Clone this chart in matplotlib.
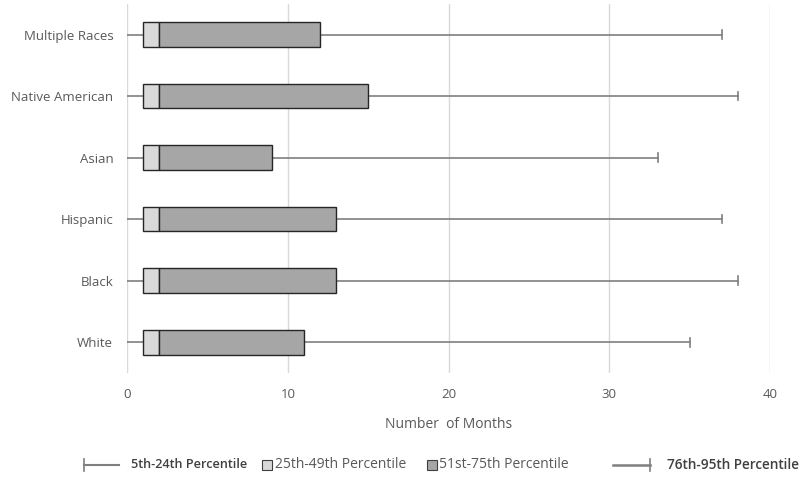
import matplotlib.pyplot as plt
from matplotlib.lines import Line2D
from matplotlib.patches import Rectangle

# data (months)
groups = ['White', 'Black', 'Hispanic', 'Asian', 'Native American', 'Multiple Races']
p5 = [0, 0, 0, 0, 0, 0]
p25 = [1, 1, 1, 1, 1, 1]
p50 = [2, 2, 2, 2, 2, 2]
p75 = [11, 13, 13, 9, 15, 12]
p95 = [35, 38, 37, 33, 38, 37]

light = '#d9d9d9'
dark = '#a6a6a6'
wcol = '#7f7f7f'
tcol = '#595959'

plt.rcParams['font.family'] = ['Open Sans', 'DejaVu Sans']

fig = plt.figure(figsize=(8, 4.8), dpi=100)
ax = fig.add_axes([0.159, 0.223, 0.8035, 0.769])

y = list(range(len(groups)))
h = 0.4

# whiskers
for i in y:
    ax.plot([p5[i], p25[i]], [i, i], color=wcol, lw=1.2, zorder=2)
    ax.plot([p75[i], p95[i]], [i, i], color=wcol, lw=1.2, zorder=2)
    ax.plot([p95[i], p95[i]], [i - 0.07, i + 0.07], color=wcol, lw=1.2, zorder=2)

ax.barh(y, [b - a for a, b in zip(p25, p50)], left=p25, height=h,
        color=light, edgecolor='#262626', lw=1.0, zorder=3)
ax.barh(y, [b - a for a, b in zip(p50, p75)], left=p50, height=h,
        color=dark, edgecolor='#262626', lw=1.0, zorder=3)

ax.set_xlim(0, 40)
ax.set_ylim(-0.5, len(groups) - 0.5)
ax.set_xticks([0, 10, 20, 30, 40])
ax.set_yticks(y)
ax.set_yticklabels(groups)
ax.xaxis.grid(True, color='#d9d9d9', lw=1.0)
ax.set_axisbelow(True)
for s in ax.spines.values():
    s.set_visible(False)
ax.tick_params(axis='both', length=0, labelsize=9.5, labelcolor=tcol)
ax.tick_params(axis='x', pad=11)
ax.tick_params(axis='y', pad=10)
ax.set_xlabel('Number  of Months', fontsize=10, color=tcol, labelpad=11)

# legend drawn in figure coords
ly = 1 - 465 / 480
fig.add_artist(Line2D([84 / 800, 119 / 800], [ly, ly], color=wcol, lw=1.5))
fig.add_artist(Line2D([84 / 800, 84 / 800], [ly - 0.013, ly + 0.013], color=wcol, lw=1.2))
fig.text(131 / 800, ly, '5th-24th Percentile', fontsize=9.1, color='#404040',
         va='center', fontweight='semibold')
fig.add_artist(Rectangle((262 / 800, ly - 0.011), 10 / 800, 10 / 480, transform=fig.transFigure,
                         facecolor=light, edgecolor='#404040', lw=0.8))
fig.text(275 / 800, ly, '25th-49th Percentile', fontsize=10, color=tcol, va='center')
fig.add_artist(Rectangle((427 / 800, ly - 0.011), 10 / 800, 10 / 480, transform=fig.transFigure,
                         facecolor=dark, edgecolor='#404040', lw=0.8))
fig.text(439 / 800, ly, '51st-75th Percentile', fontsize=10, color=tcol, va='center')
fig.add_artist(Line2D([613 / 800, 650 / 800], [ly, ly], color=wcol, lw=1.8))
fig.add_artist(Line2D([650 / 800, 650 / 800], [ly - 0.013, ly + 0.013], color=wcol, lw=1.2))
fig.text(667 / 800, ly, '76th-95th Percentile', fontsize=9.8, color='#404040',
         va='center', fontweight='semibold')

fig.savefig('out.png', dpi=100)
